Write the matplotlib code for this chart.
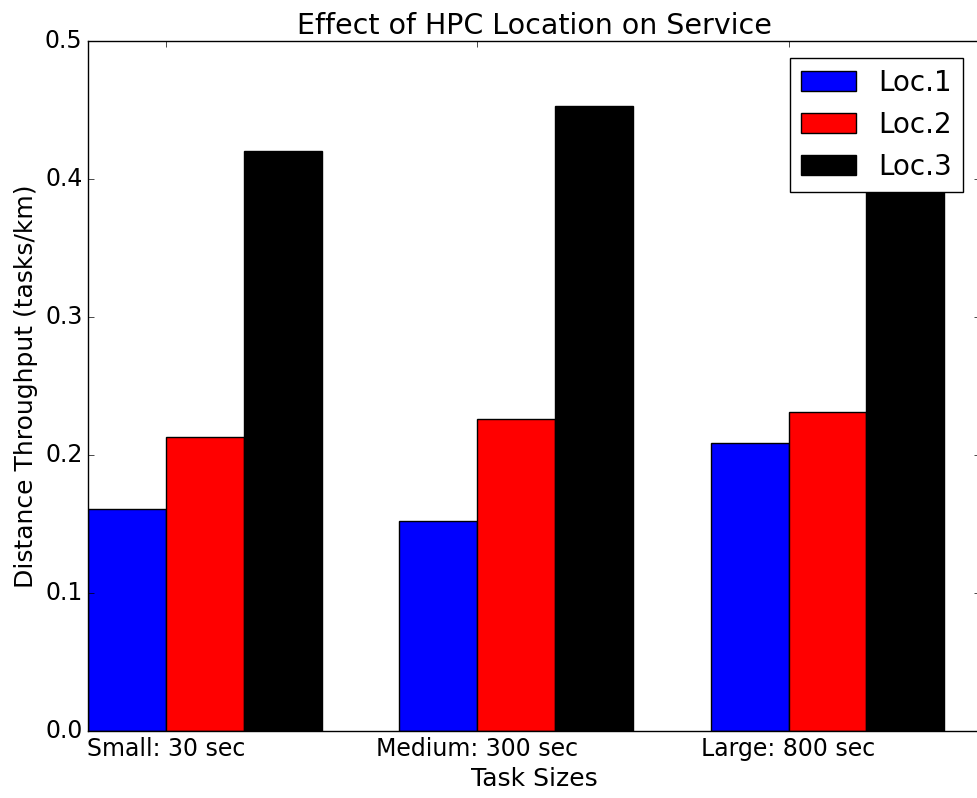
import numpy as np
import matplotlib
matplotlib.use("Agg")
import matplotlib.pyplot as plt

plt.style.use('classic')

categories = ['Small: 30 sec', 'Medium: 300 sec', 'Large: 800 sec']
loc1 = [0.161, 0.152, 0.209]
loc2 = [0.213, 0.226, 0.231]
loc3 = [0.420, 0.453, 0.430]
labels = ['Loc.1', 'Loc.2', 'Loc.3']

ind = np.arange(len(categories))
width = 0.25

fig = plt.figure(figsize=(9.77, 7.98), dpi=100)
ax = fig.add_axes([0.0901, 0.084, 0.913, 0.8646])

ax.bar(ind, loc1, width, color='b', align='edge', label=labels[0])
ax.bar(ind + width, loc2, width, color='r', align='edge', label=labels[1])
ax.bar(ind + 2 * width, loc3, width, color='k', align='edge', label=labels[2])

ax.set_xlim(0, 2.865)
ax.set_ylim(0, 0.5)
ax.set_xticks(ind + width)
ax.set_xticklabels(categories, fontsize=17)
ax.set_yticks(np.arange(0, 0.51, 0.1))
ax.tick_params(axis='y', labelsize=17)
ax.set_xlabel('Task Sizes', fontsize=18)
ax.set_ylabel('Distance Throughput (tasks/km)', fontsize=18)
ax.set_title('Effect of HPC Location on Service', fontsize=20.5)
ax.legend(loc='upper right', fontsize=20, borderaxespad=0.6)

fig.savefig('out.png', dpi=100)
